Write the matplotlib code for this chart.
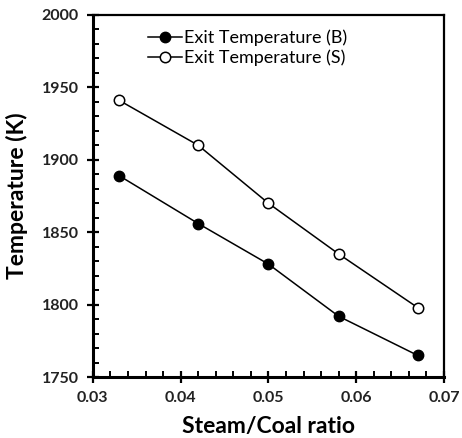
import matplotlib
matplotlib.use("Agg")
import matplotlib.pyplot as plt
from matplotlib.ticker import MultipleLocator, FuncFormatter

ratio = [0.033, 0.042, 0.050, 0.058, 0.067]
temp_b = [1889, 1856, 1828, 1792, 1765]
temp_s = [1941, 1910, 1870, 1835, 1798]
label_b = "Exit Temperature (B)"
label_s = "Exit Temperature (S)"

plt.rcParams['font.family'] = ['Lato', 'DejaVu Sans']

fig = plt.figure(figsize=(4.62, 4.38), dpi=100)
ax = fig.add_axes([0.201, 0.139, 0.760, 0.827])

ax.plot(ratio, temp_b, '-o', color='black', lw=1.1, ms=7.5, mfc='black', mec='black', label=label_b)
ax.plot(ratio, temp_s, '-o', color='black', lw=1.1, ms=7.5, mfc='white', mec='black', mew=1.1, label=label_s)

ax.set_xlim(0.03, 0.07)
ax.set_ylim(1750, 2000)
ax.xaxis.set_major_locator(MultipleLocator(0.01))
ax.xaxis.set_minor_locator(MultipleLocator(0.002))
ax.yaxis.set_major_locator(MultipleLocator(50))
ax.yaxis.set_minor_locator(MultipleLocator(10))
ax.xaxis.set_major_formatter(FuncFormatter(lambda v, p: f"{v:.2f}"))

ax.tick_params(which='major', direction='inout', length=8, width=1.6, labelsize=11.5, pad=6)
ax.tick_params(which='minor', direction='in', length=4, width=1.4)
ax.tick_params(top=False, right=False, which='both')
for lab in ax.get_xticklabels() + ax.get_yticklabels():
    lab.set_fontweight('bold')
    lab.set_color('#222222')
for side in ['left', 'bottom']:
    ax.spines[side].set_linewidth(2.2)
for side in ['top', 'right']:
    ax.spines[side].set_linewidth(1.6)

ax.set_xlabel("Steam/Coal ratio", fontsize=16.5, fontweight='bold', labelpad=8)
ax.set_ylabel("Temperature (K)", fontsize=16.5, fontweight='bold', labelpad=10)

leg = ax.legend(loc='upper left', bbox_to_anchor=(0.125, 0.99), frameon=False, fontsize=13,
                handlelength=1.9, handletextpad=0.1, labelspacing=0.2, borderaxespad=0.2)

fig.savefig("out.png", dpi=100)
